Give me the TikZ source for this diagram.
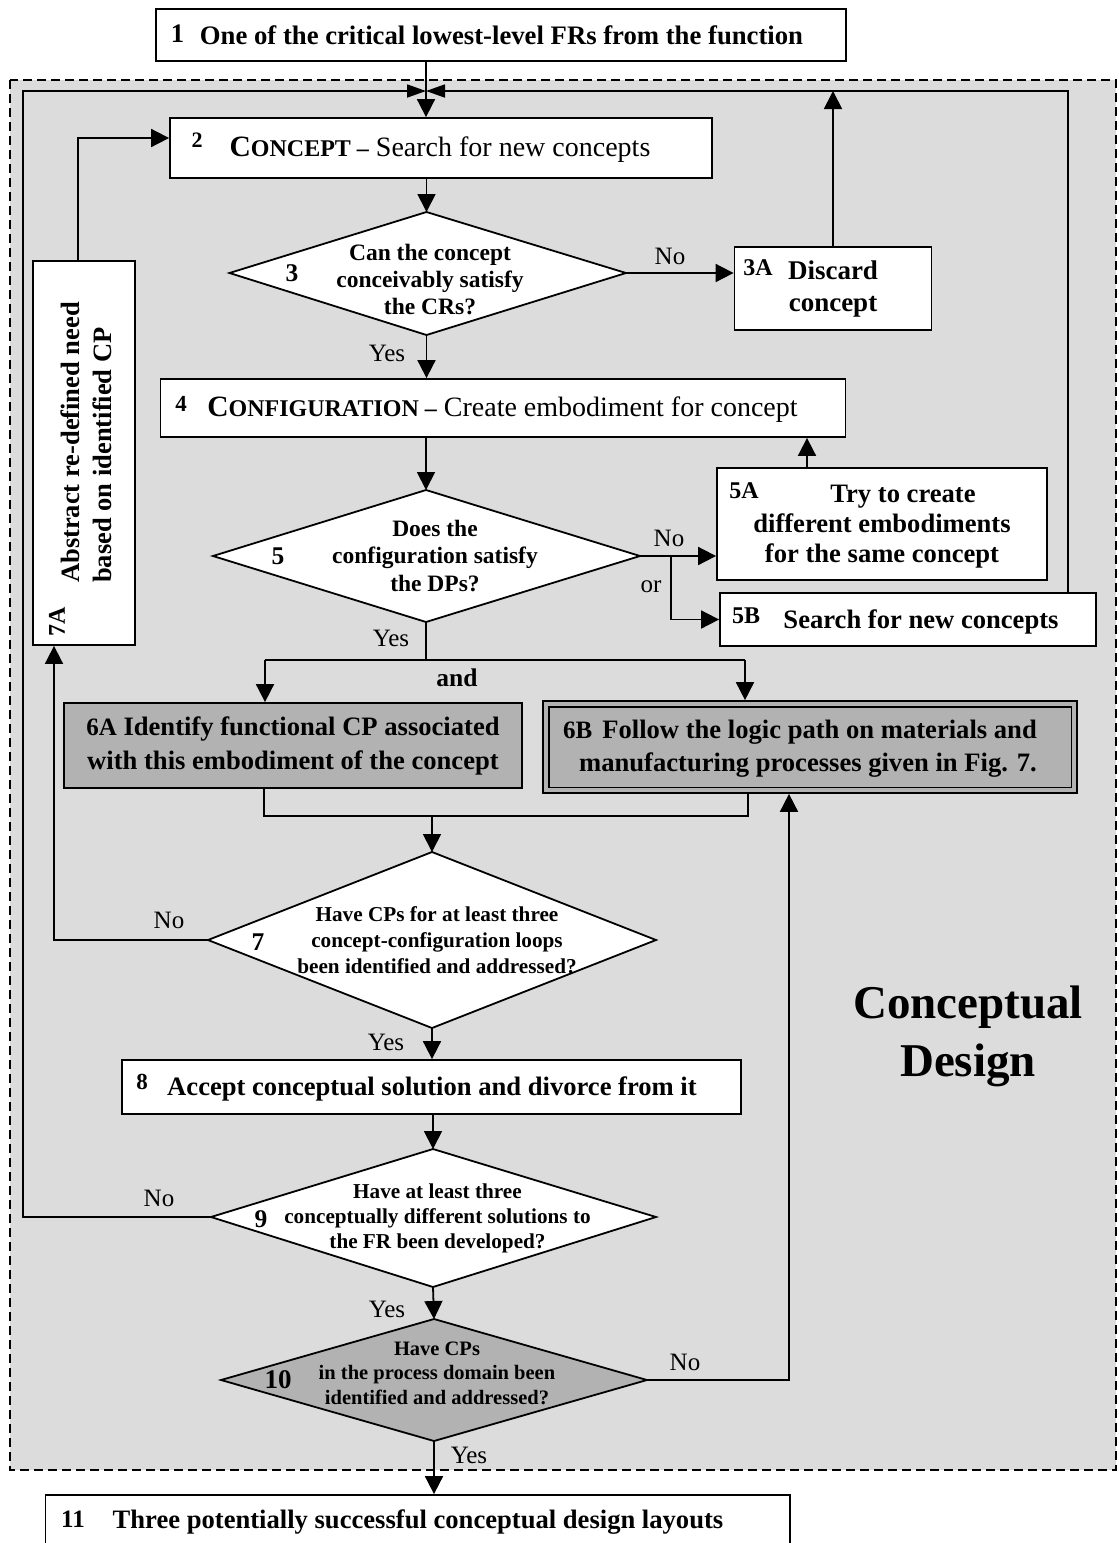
\documentclass[tikz,border=0pt]{standalone}
\usepackage{fontspec}
\setmainfont{Liberation Serif}
\usetikzlibrary{arrows.meta,calc}
\definecolor{bgc}{RGB}{220,220,220}
\definecolor{dkc}{RGB}{178,178,178}
\newcommand{\fsz}[2]{\fontsize{#1}{#2}\selectfont}
\begin{document}
\begin{tikzpicture}[x=1pt,y=-1pt,
  every node/.style={inner sep=0pt},
  lw/.style={line width=1.8pt},
  box/.style={draw, lw, fill=white},
  dia/.style={draw, lw, fill=white},
  arr/.style={lw, -{Triangle[length=18pt,width=18pt]}},
  arrs/.style={lw, -{Triangle[length=19pt,width=13pt]}},
  lbl/.style={font=\fsz{25}{25}},
  num/.style={font=\bfseries\fsz{23}{23}},
  numd/.style={font=\bfseries\fsz{25.5}{25.5}},
  numa/.style={font=\bfseries\fsz{24}{24}}]
\useasboundingbox (0,0) rectangle (1119,1543);
% background region
\fill[bgc] (10,80) rectangle (1116,1470);
\draw[line width=1.8pt, dash pattern=on 9pt off 5pt] (10,80) rectangle (1116,1470);

% coordinates
\coordinate (jn) at (426,91);
\coordinate (loopL) at (23,91);
\coordinate (loopR) at (1068,91);
\coordinate (d3t) at (426.5,212); \coordinate (d3b) at (426.5,335);
\coordinate (d3l) at (229.5,273); \coordinate (d3r) at (626,273);
\coordinate (d5t) at (426,490); \coordinate (d5b) at (426,622);
\coordinate (d5l) at (213,556); \coordinate (d5r) at (640,556);
\coordinate (d7t) at (432,852); \coordinate (d7b) at (432,1028);
\coordinate (d7l) at (208,940); \coordinate (d7r) at (656,940);
\coordinate (d9t) at (433,1149); \coordinate (d9b) at (433,1287);
\coordinate (d9l) at (211,1217); \coordinate (d9r) at (656,1217);
\coordinate (dat) at (434,1319); \coordinate (dab) at (434,1441);
\coordinate (dal) at (221,1380); \coordinate (dar) at (647,1380);
\coordinate (br5) at (671,556);
\coordinate (up5a) at (807,500);
\coordinate (sp) at (426,660);
\coordinate (a6) at (265,660);
\coordinate (b6) at (745,660);
\coordinate (mL) at (264,816);
\coordinate (mR) at (748,816);
\coordinate (x50) at (54,940);
\coordinate (x72) at (78,138);
\coordinate (x773) at (789,1380);

% boxes
\node[box, minimum width=690pt, minimum height=52pt] (b1) at (501,35) {};
\node[box, minimum width=542pt, minimum height=60pt] (b2) at (441,148) {};
\node[box, minimum width=197pt, minimum height=83pt] (b3a) at (833,288.5) {};
\node[box, minimum width=685pt, minimum height=58pt] (b4) at (503,408) {};
\node[box, minimum width=330pt, minimum height=112pt] (b5a) at (882,524) {};
\node[box, minimum width=376pt, minimum height=53pt] (b5b) at (908,619.5) {};
\node[box, fill=dkc, minimum width=458pt, minimum height=85pt] (b6a) at (293,745.5) {};
\node[draw, lw, double=dkc, double distance=3.9pt, fill=dkc, minimum width=528.5pt, minimum height=86.5pt, outer sep=3.6pt] (b6b) at (810,747) {};
\node[box, minimum width=619pt, minimum height=54pt] (b8) at (431.7,1087) {};
\node[box, minimum width=744.6pt, minimum height=56pt] (b11) at (417.7,1523) {};
\node[box, minimum width=102pt, minimum height=384pt] (b7a) at (84,453) {};

% diamonds
\draw[dia] (d3t) -- (d3r) -- (d3b) -- (d3l) -- cycle;
\draw[dia] (d5t) -- (d5r) -- (d5b) -- (d5l) -- cycle;
\draw[dia] (d7t) -- (d7r) -- (d7b) -- (d7l) -- cycle;
\draw[dia] (d9t) -- (d9r) -- (d9b) -- (d9l) -- cycle;
\draw[dia, fill=dkc] (dat) -- (dar) -- (dab) -- (dal) -- cycle;

% texts
\node[font=\bfseries\fsz{26.7}{26.7}] (t1) at (501.5,35) {One of the critical lowest-level FRs from the function};
\node[font=\bfseries\fsz{26.7}{26.7}] (n1) at (177.5,34) {1};
\node (t2) at (440,150) {{\bfseries\fsz{29.5}{29.5}C\fsz{24}{24}ONCEPT \textendash}\fsz{28}{28} Search for new concepts};
\node[font=\bfseries\fsz{22}{22}] (n2) at (197,140) {2};
\node[font=\bfseries\fsz{23.5}{27}, align=center] (t3) at (430,280) {Can the concept\\conceivably satisfy\\the CRs?};
\node[numd] (n3) at (292,273) {3};
\node[font=\bfseries\fsz{27}{32}, align=center] (t3a) at (833,289) {Discard\\concept};
\node[numa] (n3a) at (758,268) {3A};
\node (t4) at (502.5,410) {{\bfseries\fsz{29.5}{29.5}C\fsz{24}{24}ONFIGURATION \textendash}\fsz{28}{28} Create embodiment for concept};
\node[num] (n4) at (181,404) {4};
\node[font=\bfseries\fsz{23.5}{27.5}, align=center] (t5) at (435,556) {Does the\\configuration satisfy\\the DPs?};
\node[numd] (n5) at (278,556) {5};
\node[font=\bfseries\fsz{26.6}{30}, align=center] (t5a) at (882,527) {\hspace*{42pt}Try to create\\different embodiments\\for the same concept};
\node[numa] (n5a) at (744,491) {5A};
\node[font=\bfseries\fsz{26.6}{26.6}] (t5b) at (921,622) {Search for new concepts};
\node[numa] (n5b) at (746,616) {5B};
\node[font=\bfseries\fsz{26.6}{34}, align=center] (t6a) at (293,746) {{\fsz{25}{34}6A} Identify functional CP associated\\with this embodiment of the concept};
\node[font=\bfseries\fsz{26.6}{33}, align=right, anchor=east] (t6b) at (1037,749) {{\fsz{25}{33}6B}\hspace{10pt}Follow the logic path on materials and\\manufacturing processes given in Fig. 7.};
\node[font=\bfseries\fsz{21.2}{26}, align=center] (t7) at (437,940) {Have CPs for at least three\\concept-configuration loops\\been identified and addressed?};
\node[numd] (n7) at (258,942) {7};
\node[font=\bfseries\fsz{26.5}{32}, align=left, rotate=90, anchor=west] (t7a) at (86,583) {Abstract re-defined need\\based on identified CP};
\node[numa, rotate=90] (n7a) at (57,622) {7A};
\node[font=\bfseries\fsz{26.6}{26.6}] (t8) at (432,1089) {Accept conceptual solution and divorce from it};
\node[num] (n8) at (142,1082) {8};
\node[font=\bfseries\fsz{21.2}{25}, align=center] (t9) at (437.5,1218) {Have at least three\\conceptually different solutions to\\the FR been developed?};
\node[numd] (n9) at (261,1219) {9};
\node[font=\bfseries\fsz{20.5}{24.5}, align=center] (t10) at (437,1373) {Have CPs\\in the process domain been\\identified and addressed?};
\node[font=\bfseries\fsz{27}{27}] (n10) at (278,1380) {10};
\node[font=\bfseries\fsz{26.6}{26.6}] (t11) at (418,1522) {Three potentially successful conceptual design layouts};
\node[font=\bfseries\fsz{25}{25}] (n11) at (73,1519) {11};
\node[font=\bfseries\fsz{47}{58}, align=center] (cd) at (968,1036) {Conceptual\\Design};

% labels
\node[lbl] (no3) at (670,256) {No};
\node[lbl] (y3) at (387,353) {Yes};
\node[lbl] (no5) at (669,538) {No};
\node[lbl] (or5) at (651,587) {or};
\node[lbl] (y5) at (391,638) {Yes};
\node[font=\bfseries\fsz{25.5}{25.5}] (and) at (457,678) {and};
\node[lbl] (no7) at (169,920) {No};
\node[lbl] (y7) at (386,1042) {Yes};
\node[lbl] (no9) at (159,1198) {No};
\node[lbl] (y9) at (387,1309) {Yes};
\node[lbl] (no10) at (685,1362) {No};
\node[lbl] (y10) at (469,1455) {Yes};

% connectors
\draw[arr] (b1.south -| jn) -- (b2.north -| jn);
\draw[arrs] (d9l) -| (loopL) -- (jn);
\draw[arrs] (b5b.north -| loopR) |- (jn);
\draw[arr] (b3a.north) -- (b3a.north |- jn);
\draw[arr] (b2.south -| d3t) -- (d3t);
\draw[arr] (d3r) -- (b3a.west |- d3r);
\draw[arr] (d3b) -- (b4.north -| d3b);
\draw[arr] (b4.south -| d5t) -- (d5t);
\draw[arr] (d5r) -- (b5a.west |- d5r);
\draw[arr] (br5) |- (b5b.west);
\draw[arr] (b5a.north -| up5a) -- (b4.south -| up5a);
\draw[lw] (d5b) -- (sp);
\draw[lw] (a6) -- (b6);
\draw[arr] (a6) -- (a6 |- b6a.north);
\draw[arr] (b6) -- (b6 |- b6b.north);
\draw[lw] (mL |- b6a.south) -- (mL) -- (mR) -- (mR |- b6b.south);
\draw[arr] (d7t |- mL) -- (d7t);
\draw[arr] (d7l) -- (x50) -- (x50 |- b7a.south);
\draw[arr] (x72 |- b7a.north) -- (x72) -- (x72 -| b2.west);
\draw[arr] (d7b) -- (b8.north -| d7b);
\draw[arr] (b8.south -| d9t) -- (d9t);
\draw[arr] (d9b) -- (dat);
\draw[arr] (dab) -- (b11.north -| dab);
\draw[arr] (dar) -- (x773) -- (x773 |- b6b.south);
\end{tikzpicture}
\end{document}
